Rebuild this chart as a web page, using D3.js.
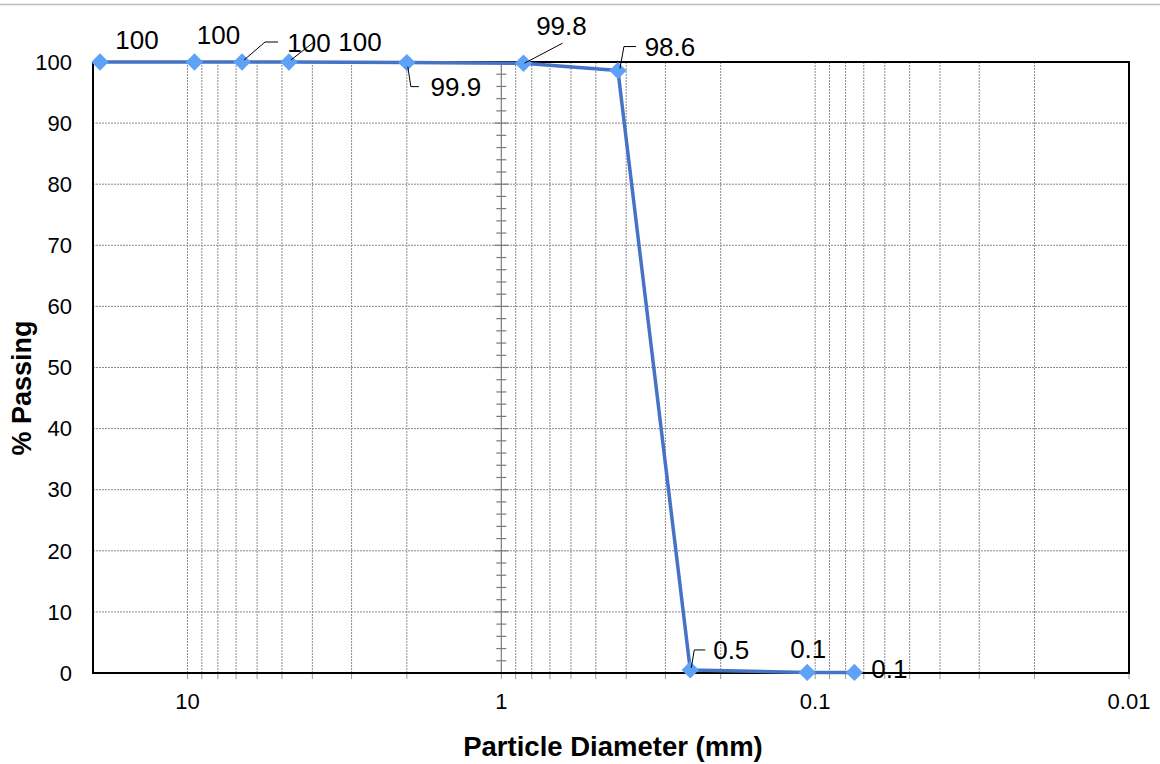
<!DOCTYPE html>
<html>
<head>
<meta charset="utf-8">
<script src="https://cdn.jsdelivr.net/npm/d3@7"></script>
<style>
  body { margin: 0; background: #fff; }
  text { font-family: "Liberation Sans", Arial, sans-serif; fill: #000; }
</style>
</head>
<body>
<script>
// Sieve sizes (mm) and % passing
const sieveSize = [19, 9.5, 6.7, 4.75, 2, 0.85, 0.425, 0.25, 0.106, 0.075];
const percentPassing = [100, 100, 100, 100, 99.9, 99.8, 98.6, 0.5, 0.1, 0.1];
const xTickValues = [10, 1, 0.1, 0.01];
const yTickValues = [0, 10, 20, 30, 40, 50, 60, 70, 80, 90, 100];

// label placement relative to each point (dx, dy) and optional leader line
const labelLayout = [
    { dx: 37, dy: -22 },
    { dx: 24, dy: -27 },
    { dx: 67, dy: -19, leader: [[2, -2], [23, -20], [36, -20]] },
    { dx: 71, dy: -20, leader: [[2, -2], [25, -20]] },
    { dx: 49, dy: 24, leader: [[1, 4], [4, 24], [12, 24]] },
    { dx: 38, dy: -37, leader: [[1, 0], [39, -20]] },
    { dx: 52, dy: -24, leader: [[2, -2], [6, -24], [18, -24]] },
    { dx: 41, dy: -20, leader: [[1, -2], [4, -20], [15, -20]] },
    { dx: 1, dy: -23 },
    { dx: 35, dy: -3 }
];

const width = 1160, height = 764;
const plotLeft = 93, plotRight = 1129, plotTop = 62, plotBottom = 673;

const svg = d3.select("body")
    .append("svg")
    .attr("width", width)
    .attr("height", height);

const x = d3.scaleLog().domain([20, 0.01]).range([plotLeft, plotRight]);
const y = d3.scaleLinear().domain([0, 100]).range([plotBottom, plotTop]);

// thin grey line along the top of the picture
svg.append("line")
    .attr("x1", 0).attr("x2", width)
    .attr("y1", 4.5).attr("y2", 4.5)
    .attr("stroke", "#bdbdbd")
    .attr("stroke-width", 1.5);

// vertical gridlines at every 1..9 x decade
const gridX = [];
[0.01, 0.1, 1, 10].forEach(dec => {
    for (let k = 1; k <= 9; k++) {
        const v = +(dec * k).toPrecision(3);
        if (v > 0.01 && v < 20) gridX.push(v);
    }
});

svg.append("g")
    .selectAll("line")
    .data(gridX.filter(v => v !== 1))
    .enter().append("line")
    .attr("x1", d => x(d)).attr("x2", d => x(d))
    .attr("y1", plotTop).attr("y2", plotBottom)
    .attr("stroke", "#8c8c8c")
    .attr("stroke-width", 1)
    .attr("stroke-dasharray", "2,1");

// horizontal gridlines
svg.append("g")
    .selectAll("line")
    .data(yTickValues.filter(v => v > 0 && v < 100))
    .enter().append("line")
    .attr("x1", plotLeft).attr("x2", plotRight)
    .attr("y1", d => y(d)).attr("y2", d => y(d))
    .attr("stroke", "#8c8c8c")
    .attr("stroke-width", 1)
    .attr("stroke-dasharray", "2,1");

// y axis crossing at 1 mm, with major and minor ticks
const yAxisG = svg.append("g");
yAxisG.append("line")
    .attr("x1", x(1)).attr("x2", x(1))
    .attr("y1", plotTop).attr("y2", plotBottom)
    .attr("stroke", "#7a7a7a")
    .attr("stroke-width", 1.2);
yAxisG.selectAll(".minor")
    .data(d3.range(0, 101, 2))
    .enter().append("line")
    .attr("x1", d => x(1) - (d % 10 === 0 ? 7 : 5))
    .attr("x2", d => x(1) + (d % 10 === 0 ? 7 : 5))
    .attr("y1", d => y(d)).attr("y2", d => y(d))
    .attr("stroke", "#7a7a7a")
    .attr("stroke-width", 1.2);

// x ticks below the axis
svg.append("g")
    .selectAll("line")
    .data(gridX.concat([0.01]))
    .enter().append("line")
    .attr("x1", d => x(d)).attr("x2", d => x(d))
    .attr("y1", plotBottom).attr("y2", plotBottom + 6)
    .attr("stroke", "#999")
    .attr("stroke-width", 1);

// plot border
svg.append("rect")
    .attr("x", plotLeft).attr("y", plotTop)
    .attr("width", plotRight - plotLeft).attr("height", plotBottom - plotTop)
    .attr("fill", "none")
    .attr("stroke", "#000")
    .attr("stroke-width", 2);

// tick labels
svg.append("g")
    .selectAll("text")
    .data(yTickValues)
    .enter().append("text")
    .attr("x", 72)
    .attr("y", d => y(d))
    .attr("dy", "0.35em")
    .attr("text-anchor", "end")
    .style("font-size", "22px")
    .text(d => d);

svg.append("g")
    .selectAll("text")
    .data(xTickValues)
    .enter().append("text")
    .attr("x", d => x(d))
    .attr("y", 701)
    .attr("dy", "0.35em")
    .attr("text-anchor", "middle")
    .style("font-size", "22px")
    .text(d => d);

// axis titles
svg.append("text")
    .attr("x", (plotLeft + plotRight) / 2 + 2)
    .attr("y", 746)
    .attr("dy", "0.35em")
    .attr("text-anchor", "middle")
    .style("font-size", "27.5px")
    .style("font-weight", "bold")
    .text("Particle Diameter (mm)");

svg.append("text")
    .attr("transform", "translate(22,388) rotate(-90)")
    .attr("dy", "0.35em")
    .attr("text-anchor", "middle")
    .style("font-size", "27px")
    .style("font-weight", "bold")
    .text("% Passing");

// the grading curve
const points = sieveSize.map((s, i) => ({ size: s, pct: percentPassing[i], i: i }));

svg.append("path")
    .datum(points)
    .attr("fill", "none")
    .attr("stroke", "#4773c6")
    .attr("stroke-width", 3.5)
    .attr("stroke-linejoin", "round")
    .attr("d", d3.line().x(d => x(d.size)).y(d => y(d.pct)));

svg.append("g")
    .selectAll("path")
    .data(points)
    .enter().append("path")
    .attr("d", d3.symbol().type(d3.symbolSquare).size(150))
    .attr("transform", d => `translate(${x(d.size)},${y(d.pct)}) rotate(45)`)
    .attr("fill", "#5ea2f7");

// leader lines and data labels
svg.append("g")
    .selectAll("path")
    .data(points.filter(d => labelLayout[d.i].leader))
    .enter().append("path")
    .attr("fill", "none")
    .attr("stroke", "#000")
    .attr("stroke-width", 1)
    .attr("d", d => {
        const px = x(d.size), py = y(d.pct);
        return d3.line()(labelLayout[d.i].leader.map(p => [px + p[0], py + p[1]]));
    });

svg.append("g")
    .selectAll("text")
    .data(points)
    .enter().append("text")
    .attr("x", d => x(d.size) + labelLayout[d.i].dx)
    .attr("y", d => y(d.pct) + labelLayout[d.i].dy)
    .attr("dy", "0.35em")
    .attr("text-anchor", "middle")
    .style("font-size", "26px")
    .text(d => d.pct);
</script>
</body>
</html>
